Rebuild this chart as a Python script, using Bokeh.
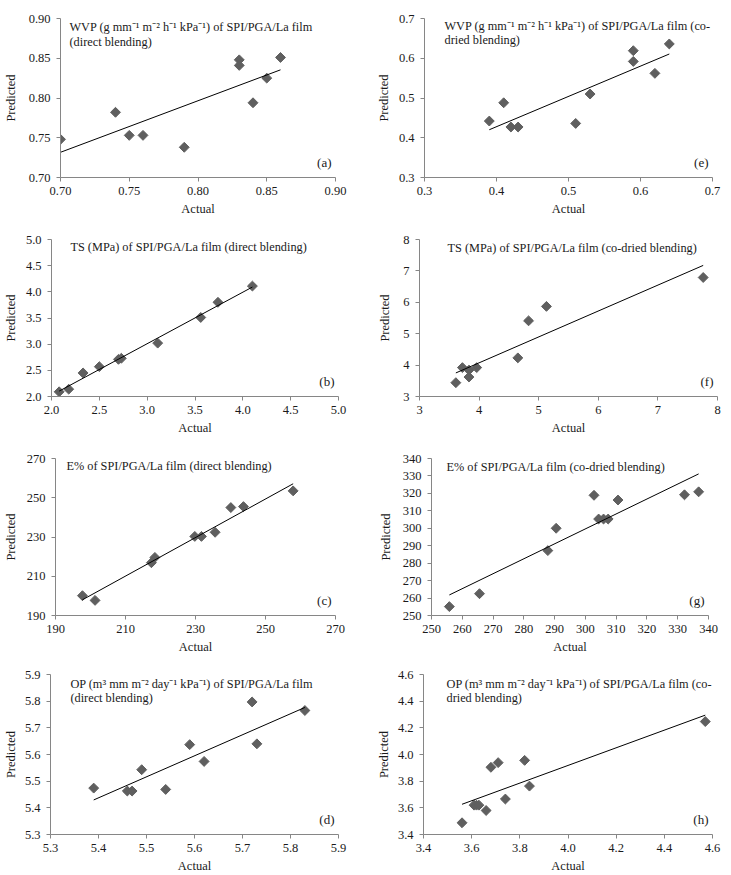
import numpy as np
from bokeh.plotting import figure
from bokeh.layouts import column, row
from bokeh.models import Range1d, FixedTicker, PrintfTickFormatter, Label
from bokeh.embed import file_html
from bokeh.resources import INLINE

# ---------------- data ----------------
a_actual = [0.70, 0.74, 0.75, 0.76, 0.79, 0.83, 0.83, 0.84, 0.85, 0.86]
a_pred = [0.748, 0.782, 0.753, 0.753, 0.738, 0.848, 0.841, 0.794, 0.825, 0.851]
a_ticks = [0.70, 0.75, 0.80, 0.85, 0.90]

e_actual = [0.39, 0.41, 0.42, 0.43, 0.51, 0.53, 0.59, 0.59, 0.62, 0.64]
e_pred = [0.442, 0.488, 0.427, 0.427, 0.436, 0.510, 0.619, 0.592, 0.562, 0.636]
e_ticks = [0.3, 0.4, 0.5, 0.6, 0.7]

b_actual = [2.08, 2.18, 2.33, 2.50, 2.70, 2.73, 3.11, 3.56, 3.74, 4.10]
b_pred = [2.09, 2.14, 2.45, 2.57, 2.71, 2.73, 3.02, 3.51, 3.80, 4.11]
b_ticks = [2.0, 2.5, 3.0, 3.5, 4.0, 4.5, 5.0]

f_actual = [3.61, 3.72, 3.83, 3.83, 3.96, 4.65, 4.83, 5.13, 7.76]
f_pred = [3.44, 3.92, 3.84, 3.62, 3.92, 4.23, 5.41, 5.87, 6.79]
f_ticks = [3, 4, 5, 6, 7, 8]

c_actual = [197.7, 201.3, 217.4, 218.4, 229.8, 231.7, 235.6, 240.1, 243.7, 257.9]
c_pred = [200.1, 197.7, 216.9, 219.6, 230.3, 230.3, 232.4, 245.0, 245.5, 253.5]
c_ticks = [190, 210, 230, 250, 270]

g_actual = [255.8, 265.6, 287.8, 290.5, 302.8, 304.3, 305.9, 307.4, 310.6, 332.2, 336.8]
g_pred = [255.1, 262.5, 287.2, 300.0, 318.9, 305.3, 305.3, 305.3, 316.2, 319.2, 320.9]
g_ticks = [250, 260, 270, 280, 290, 300, 310, 320, 330, 340]

d_actual = [5.39, 5.46, 5.47, 5.49, 5.54, 5.59, 5.62, 5.72, 5.73, 5.83]
d_pred = [5.474, 5.463, 5.463, 5.543, 5.469, 5.637, 5.574, 5.797, 5.640, 5.765]
d_ticks = [5.3, 5.4, 5.5, 5.6, 5.7, 5.8, 5.9]

h_actual = [3.56, 3.61, 3.62, 3.63, 3.66, 3.68, 3.71, 3.74, 3.82, 3.84, 4.57]
h_pred = [3.488, 3.62, 3.62, 3.62, 3.58, 3.904, 3.939, 3.666, 3.956, 3.763, 4.247]
h_ticks = [3.4, 3.6, 3.8, 4.0, 4.2, 4.4, 4.6]

titles = {
    "a": ["WVP (g mm\u207b\u00b9 m\u207b\u00b2 h\u207b\u00b9 kPa\u207b\u00b9) of SPI/PGA/La film", "(direct blending)"],
    "e": ["WVP (g mm\u207b\u00b9 m\u207b\u00b2 h\u207b\u00b9 kPa\u207b\u00b9) of SPI/PGA/La film (co-", "dried blending)"],
    "b": ["TS (MPa) of SPI/PGA/La film (direct blending)"],
    "f": ["TS (MPa) of SPI/PGA/La film (co-dried blending)"],
    "c": ["E% of SPI/PGA/La film (direct blending)"],
    "g": ["E% of SPI/PGA/La film (co-dried blending)"],
    "d": ["OP (m\u00b3 mm m\u207b\u00b2 day\u207b\u00b9 kPa\u207b\u00b9) of SPI/PGA/La film", "(direct blending)"],
    "h": ["OP (m\u00b3 mm m\u207b\u00b2 day\u207b\u00b9 kPa\u207b\u00b9) of SPI/PGA/La film (co-", "dried blending)"],
}
x_label = "Actual"
y_label = "Predicted"

# ---------------- layout / style ----------------
FONT = "Liberation Serif"
AXIS_COLOR = "#868686"
MARK_COLOR = "#5f5f5f"
TEXT_COLOR = "#1a1a1a"

col_left = [0, 365]
col_width = [365, 366]
row_top = [0, 220, 440, 659]
row_height = [220, 220, 219, 216]

# frame in page pixels: (left, right, top, bottom)
panels = [
    dict(k="a", x=a_actual, y=a_pred, t=a_ticks, fmt="%.2f", r=0, c=0, fr=(59, 335, 16, 177), ls=8, tdx=9, tdy=9),
    dict(k="e", x=e_actual, y=e_pred, t=e_ticks, fmt="%.1f", r=0, c=1, fr=(424, 712, 18, 177), ls=5, tdx=20, tdy=7),
    dict(k="b", x=b_actual, y=b_pred, t=b_ticks, fmt="%.1f", r=1, c=0, fr=(50, 338, 239, 399), ls=5, tdx=19, tdy=8),
    dict(k="f", x=f_actual, y=f_pred, t=f_ticks, fmt="%d", r=1, c=1, fr=(419, 717, 237, 396), ls=8, tdx=28, tdy=9),
    dict(k="c", x=c_actual, y=c_pred, t=c_ticks, fmt="%d", r=2, c=0, fr=(54, 335, 458, 617), ls=6, tdx=11, tdy=8),
    dict(k="g", x=g_actual, y=g_pred, t=g_ticks, fmt="%d", r=2, c=1, fr=(431, 708, 456, 615), ls=7, tdx=15, tdy=9),
    dict(k="d", x=d_actual, y=d_pred, t=d_ticks, fmt="%.1f", r=3, c=0, fr=(49, 338, 674, 834), ls=4, tdx=20, tdy=9),
    dict(k="h", x=h_actual, y=h_pred, t=h_ticks, fmt="%.1f", r=3, c=1, fr=(423, 712, 674, 834), ls=4, tdx=23, tdy=9),
]


def make_panel(s):
    L, R, T, B = s["fr"]
    cl, cw = col_left[s["c"]], col_width[s["c"]]
    rt, rh = row_top[s["r"]], row_height[s["r"]]
    ticks = s["t"]
    lo, hi = ticks[0], ticks[-1]
    fw, fh = R - L, B - T
    p = figure(width=cw, height=rh, x_range=Range1d(lo, hi), y_range=Range1d(lo, hi),
               output_backend="svg", toolbar_location=None,
               min_border_left=L - cl, min_border_right=cl + cw - R,
               min_border_top=T - rt, min_border_bottom=rt + rh - B)
    p.outline_line_color = None
    p.background_fill_color = "white"
    p.border_fill_color = "white"
    p.xgrid.visible = False
    p.ygrid.visible = False
    for ax in (p.xaxis[0], p.yaxis[0]):
        ax.ticker = FixedTicker(ticks=ticks)
        ax.formatter = PrintfTickFormatter(format=s["fmt"])
        ax.axis_line_color = AXIS_COLOR
        ax.major_tick_line_color = AXIS_COLOR
        ax.minor_tick_line_color = None
        ax.major_tick_in = 0
        ax.major_tick_out = 4
        ax.major_label_text_font = FONT
        ax.major_label_text_font_size = "12.5px"
        ax.major_label_text_color = TEXT_COLOR
        ax.axis_label_text_font = FONT
        ax.axis_label_text_font_size = "12.5px"
        ax.axis_label_text_font_style = "normal"
        ax.axis_label_text_color = TEXT_COLOR
    p.xaxis.axis_label = x_label
    p.xaxis.major_label_standoff = 5
    p.xaxis.axis_label_standoff = 4
    p.yaxis.axis_label = y_label
    p.yaxis.major_label_standoff = 6
    p.yaxis.axis_label_standoff = s["ls"]

    # points
    p.scatter(s["x"], s["y"], marker="square", angle=np.pi / 4, size=7,
              fill_color=MARK_COLOR, line_color=MARK_COLOR)
    # linear trend line fitted to the points
    xs = np.array(s["x"], dtype=float)
    ys = np.array(s["y"], dtype=float)
    m, b0 = np.polyfit(xs, ys, 1)
    xl = np.array([xs.min(), xs.max()])
    p.line(xl, m * xl + b0, line_color="black", line_width=1)

    dx = (hi - lo) / fw
    dy = (hi - lo) / fh
    for i, txt in enumerate(titles[s["k"]]):
        p.add_layout(Label(x=lo + s["tdx"] * dx, y=hi - (s["tdy"] + 14.5 * i) * dy, text=txt,
                           text_font=FONT, text_font_size="12.3px", text_color=TEXT_COLOR,
                           text_align="left", text_baseline="middle"))
    p.add_layout(Label(x=hi - 4 * dx, y=lo + 15 * dy, text="(" + s["k"] + ")",
                       text_font=FONT, text_font_size="13px", text_color=TEXT_COLOR,
                       text_align="right", text_baseline="middle"))
    return p


figs = {s["k"]: make_panel(s) for s in panels}
layout = column(row(figs["a"], figs["e"]), row(figs["b"], figs["f"]),
                row(figs["c"], figs["g"]), row(figs["d"], figs["h"]))

open("out.html", "w").write(file_html(layout, INLINE, title="SPI/PGA/La film predicted vs actual"))
